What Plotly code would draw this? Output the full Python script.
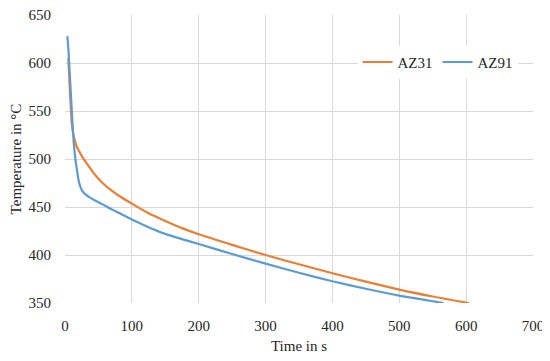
import plotly.graph_objects as go

az31_time = [5, 7, 9, 10, 13, 17, 22, 27, 35, 42, 50, 57, 68, 80, 100, 125, 150, 175, 200, 250, 300, 350, 400, 450, 500, 550, 604]
az31_temp = [605, 575, 550, 538, 524, 514, 507, 501, 493, 486, 479.5, 474.5, 468, 462, 453.5, 443.5, 435.5, 428, 421.6, 410.5, 400, 390.3, 381, 372.3, 364, 356.8, 350]

az91_time = [3.5, 5, 7, 9, 11, 13, 15, 18, 20, 23, 27, 32, 37, 45, 57, 70, 80, 100, 125, 150, 175, 200, 250, 300, 350, 400, 450, 500, 566]
az91_temp = [628, 615, 590, 565, 540, 518, 503, 488, 479, 471, 465.7, 462.3, 460, 456.8, 452.5, 447.5, 444, 437, 429, 422, 416.5, 411.5, 401, 391, 381.5, 372.6, 364.8, 357.6, 350]

x_ticks = [0, 100, 200, 300, 400, 500, 600, 700]
y_ticks = [350, 400, 450, 500, 550, 600, 650]

font = "Liberation Serif"
fig = go.Figure()
fig.add_trace(go.Scatter(x=az31_time, y=az31_temp, mode="lines", name="AZ31",
                         line=dict(color="#ED7D31", width=2.2, shape="spline", smoothing=0.6)))
fig.add_trace(go.Scatter(x=az91_time, y=az91_temp, mode="lines", name="AZ91",
                         line=dict(color="#5B9BD5", width=2.2, shape="spline", smoothing=0.6)))

# page body has a default 8px margin, so the figure is sized 542x353
fig.update_layout(
    width=542, height=353,
    margin=dict(l=57, r=17, t=7, b=58),
    paper_bgcolor="white", plot_bgcolor="white",
    font=dict(family=font, size=15, color="#262626"),
    showlegend=True,
    legend=dict(orientation="h", x=0.625, xanchor="left", y=0.836, yanchor="middle",
                bgcolor="white", font=dict(family=font, size=15, color="#262626"),
                itemwidth=30, tracegroupgap=0),
    xaxis=dict(range=[0, 700], tickvals=x_ticks, showgrid=True, gridcolor="#D9D9D9",
               gridwidth=1, zeroline=False, showline=False, ticks="", automargin=False,
               ticklabelstandoff=12, ticklabeloverflow="allow",
               title=dict(text="Time in s", font=dict(family=font, size=15), standoff=7)),
    yaxis=dict(range=[350, 650], tickvals=y_ticks, showgrid=True, gridcolor="#D9D9D9",
               gridwidth=1, zeroline=False, showline=False, ticks="", automargin=False,
               ticklabelstandoff=13, ticklabeloverflow="allow",
               title=dict(text="Temperature in °C", font=dict(family=font, size=15), standoff=4)),
)
fig.write_html("out.html")
